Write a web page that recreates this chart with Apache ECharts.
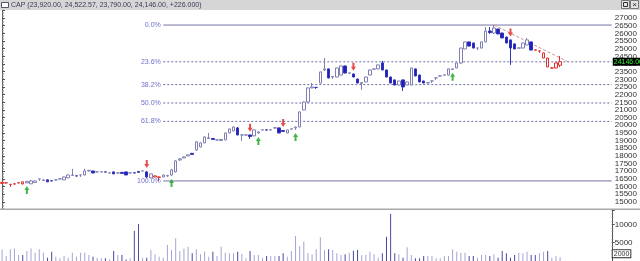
<!DOCTYPE html>
<html><head><meta charset="utf-8">
<script src="https://cdn.jsdelivr.net/npm/echarts/dist/echarts.min.js"></script>
<style>html,body{margin:0;padding:0;background:#fff;}#c{width:640px;height:261px;}</style>
</head><body><div id="c"></div>
<script>
const opens = [16210,16240,16140,16180,16240,16310,16240,16180,16270,16500,16400,16440,16380,16440,16500,16440,16570,16730,16700,16760,
16760,17020,17020,16960,16950,16960,16890,16960,16890,16930,16960,16890,16900,16990,17020,16960,16570,16630,16600,16630,
16700,16760,16960,17740,17870,18000,18170,18390,18590,18850,19140,19140,19040,19010,19050,19500,19630,19830,19370,19360,
19370,19310,19500,19690,19700,19690,19820,19830,19660,19500,19750,19830,19890,21000,21520,22440,22470,22760,23610,23680,
23150,23150,23280,23870,23400,23350,23020,22730,22830,23280,23660,23680,24070,23610,23150,22960,22630,22960,22630,22630,
23680,23280,22890,22760,22890,23090,23210,23270,23280,23640,23740,24070,24980,25440,25370,25040,25040,25440,26150,26020,
26280,26020,25760,25570,25310,25030,25040,25240,25440,24920,24850,24390,24390,23740,23740,23920];
const closes = [16270,16250,16150,16180,16250,16180,16340,16370,16370,16500,16440,16310,16370,16440,16510,16630,16760,16760,16700,16760,
17020,17060,16890,16960,16970,16950,16900,16830,16890,16860,16760,16900,16890,16930,17020,16630,16830,16700,16630,16760,
16730,17090,17680,17810,17940,18070,18100,18920,18850,19240,19180,19080,19050,19080,19500,19760,19890,19370,19370,19380,
19270,19700,19570,19710,19690,19710,19840,19500,19600,19700,19770,19890,20870,21520,22440,22500,22470,23480,23680,23090,
23190,23740,23870,23410,23420,23150,22760,22790,23150,23610,23680,23940,23610,23150,22760,22630,22890,22500,22830,23740,
23220,22830,22760,22780,22890,23090,23230,23290,23680,23680,24070,25040,25440,25170,25040,25040,25440,26150,26050,26350,
25960,25700,25370,25040,24980,25050,25370,25570,24910,24900,24850,24720,23810,23740,24070,24146];
const lows = [16180,16210,15980,16110,16230,16140,16230,16170,16260,16370,16370,16300,16360,16410,16470,16430,16560,16700,16670,16630,
16730,16990,16880,16930,16940,16940,16860,16820,16830,16850,16750,16860,16880,16920,17000,16570,16560,16600,16370,16610,
16630,16700,16930,17680,17850,17980,18090,18330,18560,18830,19110,19060,19020,19000,19030,19480,19610,19350,18980,19340,
19110,19290,19440,19670,19670,19680,19800,19480,19580,19480,19730,19700,19870,20980,21500,22420,22370,22740,23540,23060,
23020,23130,23260,23390,23380,23130,22740,22310,22810,23260,23640,23660,23590,23130,22740,22610,22610,22240,22610,22610,
23200,22810,22740,22740,22760,22960,23190,23250,23260,23620,23720,24000,24960,25150,25020,24910,25020,25420,25960,25960,
25940,25680,25350,23940,24960,25010,25020,25220,24890,24880,24720,24370,23790,23700,23720,23790];
const highs = [16310,16270,16150,16240,16270,16340,16360,16440,16390,16500,16470,16450,16390,16470,16540,16650,16780,17160,16730,16770,
17160,17090,17040,16990,16990,16970,16930,16980,16900,16950,16980,16930,16910,17010,17040,17020,16850,16720,16660,16780,
16760,17160,17740,17870,17960,18090,18200,18980,18880,19270,19500,19160,19070,19100,19520,19790,19920,19890,19380,19400,
19380,19720,19600,19730,19720,19730,19860,19850,19690,19720,19790,19910,20900,21550,22460,22760,22480,23500,24390,23700,
23210,23760,23900,23890,23440,23370,23040,22810,23170,23630,23700,23960,24200,23630,23170,22980,22910,22980,22850,23760,
23700,23300,22910,22800,22900,23100,23250,23310,23700,23700,24090,25060,25460,25460,25390,25050,25460,26410,26410,26540,
26300,26040,25780,25590,25330,25070,25390,25700,25460,24940,24860,24740,24410,23780,24090,24523];
const volumes = [3170,1370,3200,3450,1640,1640,2730,3450,2280,3200,2280,900,2550,1180,730,1370,910,2280,1180,2280,
2280,1640,1180,910,730,730,500,2730,1640,1640,400,730,8280,10100,910,910,3000,1820,1180,910,
4370,3000,6190,2730,3450,3900,2090,3200,1820,2550,1180,2550,1370,3900,2280,2090,2090,2550,1900,730,
2730,1640,1640,910,1370,1370,1370,1370,2090,1180,2730,6830,4100,5300,2090,1820,3200,6460,3000,3200,
3000,2090,1640,1820,2280,2800,3000,1640,1640,2550,1820,910,2090,6640,12830,2090,1820,910,3730,1640,
730,730,1370,1370,1370,730,730,1370,1370,3200,2550,2280,2280,1370,1370,910,1640,1640,1370,1820,
910,2730,2090,910,1640,2280,2090,2550,1640,1640,2090,2550,2730,910,1370,1000];
const redCandles = [0,1,2,3,4,5,37,38,129,130,131,132,133,134,135];
const sellArrows = [35,60,68,85,123];
const buyArrows = [6,41,62,71,109];
const fibLow = 16370, fibHigh = 26540, fibStartIdx = 39;
const fibRatios = [0, 0.236, 0.382, 0.5, 0.618, 1];
const fibLabels = ['0.0%','23.6%','38.2%','50.0%','61.8%','100.0%'];
const trendStart = [119, 26540], trendEnd = [137, 24130];
const priceMin = 14500, priceMax = 27500, priceStep = 500;
const volMin = 0, volMax = 14000, volStep = 5000;
const titleText = 'CAP (23,920.00, 24,522.57, 23,790.00, 24,146.00, +226.000)';
const lastPriceLabel = '24146.00';
const volumeBoxLabel = '2000';
const totalSlots = 148;

const FONT = 'Liberation Sans';
const categories = Array.from({length: totalSlots}, (_, i) => String(i));
const candleData = opens.map((o, i) => {
  const item = {value: [o, closes[i], lows[i], highs[i]]};
  if (redCandles.includes(i)) item.itemStyle = {color:'#ffffff', color0:'#e02828', borderColor:'#e03030', borderColor0:'#e03030'};
  return item;
});
const volData = volumes.map((v, i) => ({value: v, itemStyle: {color: closes[i] < opens[i] ? '#4848a0' : '#a4a4d4'}}));

const fibLevels = fibRatios.map(r => fibHigh - r * (fibHigh - fibLow));
const fibSeries = fibLevels.map((lvl, k) => {
  const solid = (fibRatios[k] === 0 || fibRatios[k] === 1);
  return {
    type: 'line', xAxisIndex: 1, yAxisIndex: 0, silent: true, symbol: 'none',
    lineStyle: {color: solid ? '#7474a8' : '#6a6aa4', width: 1, type: solid ? 'solid' : [2, 2]},
    z: 1, data: [[fibStartIdx, lvl], [totalSlots - 0.5, lvl]]
  };
});
const fibLabelSeries = {
  type: 'scatter', xAxisIndex: 1, yAxisIndex: 0, silent: true, symbolSize: 1,
  itemStyle: {color: 'rgba(0,0,0,0)'}, z: 5,
  label: {show: true, position: 'left', distance: 2, color: '#4a4ac0', fontSize: 7, fontFamily: FONT,
          formatter: p => fibLabels[p.dataIndex]},
  data: fibLevels.map(lvl => [fibStartIdx, lvl])
};

const downArrow = 'path://M3,0 L7,0 L7,6 L10,6 L5,12 L0,6 L3,6 Z';
const upArrow = 'path://M5,0 L10,6 L7,6 L7,12 L3,12 L3,6 L0,6 Z';
const plain = v => String(v);

const chart = echarts.init(document.getElementById('c'), null, {renderer: 'canvas'});
chart.setOption({
  animation: false,
  backgroundColor: '#ffffff',
  grid: [
    {left: 0, right: 27, top: 10.33, bottom: 51.4},
    {left: 0, right: 27, top: 209.8, bottom: -2}
  ],
  xAxis: [
    {type: 'category', gridIndex: 0, data: categories, boundaryGap: true, show: false},
    {type: 'value', gridIndex: 0, min: -0.5, max: totalSlots - 0.5, show: false},
    {type: 'category', gridIndex: 1, data: categories, boundaryGap: true, show: false}
  ],
  yAxis: [
    {type: 'value', gridIndex: 0, position: 'right', min: priceMin, max: priceMax, interval: priceStep,
     axisLine: {show: true, lineStyle: {color: '#555'}},
     axisTick: {show: true, length: 3, lineStyle: {color: '#555'}},
     minorTick: {show: true, splitNumber: 5, length: 1.5, lineStyle: {color: '#777'}},
     splitLine: {show: false},
     axisLabel: {fontSize: 8, color: '#333', margin: 3, showMinLabel: false, showMaxLabel: false, fontFamily: FONT, formatter: plain}},
    {type: 'value', gridIndex: 1, position: 'right', min: volMin, max: volMax, interval: volStep,
     axisLine: {show: true, lineStyle: {color: '#555'}},
     axisTick: {show: true, length: 3, lineStyle: {color: '#555'}},
     minorTick: {show: true, splitNumber: 5, length: 1.5, lineStyle: {color: '#777'}},
     splitLine: {show: false},
     axisLabel: {fontSize: 8, color: '#333', margin: 3, showMinLabel: false, showMaxLabel: false, fontFamily: FONT, formatter: plain}}
  ],
  series: [
    ...fibSeries,
    fibLabelSeries,
    {type: 'line', xAxisIndex: 1, yAxisIndex: 0, data: [trendStart, trendEnd], symbol: 'none', silent: true,
     lineStyle: {color: '#d49090', width: 1, type: [3, 2]}, z: 2},
    {type: 'candlestick', xAxisIndex: 0, yAxisIndex: 0, data: candleData, barWidth: 3, z: 3,
     itemStyle: {color: '#ffffff', color0: '#1e1ec4', borderColor: '#8080b4', borderColor0: '#3434b8', borderWidth: 1},
     markLine: {symbol: 'none', silent: true, lineStyle: {color: 'rgba(0,0,0,0)', width: 0},
       label: {show: true, position: 'end', distance: 1, formatter: lastPriceLabel, backgroundColor: '#000', color: '#33ee33', fontSize: 7, padding: [1, 1, 0, 1], fontFamily: FONT},
       data: [{yAxis: closes[closes.length - 1]}]}},
    {type: 'scatter', xAxisIndex: 1, yAxisIndex: 0, symbol: downArrow, symbolSize: [5, 8], symbolOffset: [0, -7], silent: true,
     itemStyle: {color: '#e02020'}, data: sellArrows.map(i => [i, highs[i]]), z: 4},
    {type: 'scatter', xAxisIndex: 1, yAxisIndex: 0, symbol: upArrow, symbolSize: [5, 8], symbolOffset: [0, 7], silent: true,
     itemStyle: {color: '#18a018'}, data: buyArrows.map(i => [i, lows[i]]), z: 4},
    {type: 'bar', xAxisIndex: 2, yAxisIndex: 1, data: volData, barWidth: 1, silent: true,
     markLine: {symbol: 'none', silent: true, lineStyle: {color: 'rgba(0,0,0,0)', width: 0},
       label: {show: true, position: 'end', distance: 1, formatter: volumeBoxLabel, backgroundColor: '#fff', borderColor: '#333', borderWidth: 1, color: '#333', fontSize: 7, padding: [0, 1], fontFamily: FONT},
       data: [{yAxis: parseFloat(volumeBoxLabel)}]}}
  ],
  graphic: [
    {type: 'rect', shape: {x: 0, y: 0, width: 640, height: 10}, style: {fill: '#d6d6d6'}, z: 10},
    {type: 'rect', shape: {x: 1.5, y: 2.5, width: 7, height: 5}, style: {fill: '#fff', stroke: '#556'}, z: 11},
    {type: 'text', x: 11, y: 5, style: {text: titleText, fontSize: 7, fill: '#3a3a5a', fontFamily: FONT, verticalAlign: 'middle'}, z: 11},
    {type: 'rect', shape: {x: 621.5, y: 0.5, width: 8, height: 8}, style: {fill: '#e4e4e4', stroke: '#777'}, z: 11},
    {type: 'rect', shape: {x: 623.5, y: 2.5, width: 4, height: 4}, style: {fill: 'none', stroke: '#333'}, z: 12},
    {type: 'rect', shape: {x: 630.5, y: 0.5, width: 8, height: 8}, style: {fill: '#e4e4e4', stroke: '#777'}, z: 11},
    {type: 'text', x: 634.5, y: 4.8, style: {text: '×', fontSize: 8, fill: '#222', align: 'center', verticalAlign: 'middle', fontFamily: FONT}, z: 12},
    {type: 'rect', shape: {x: 0, y: 208.5, width: 640, height: 1.5}, style: {fill: '#a8a8a8'}, z: 10}
  ]
});
</script>
</body></html>
